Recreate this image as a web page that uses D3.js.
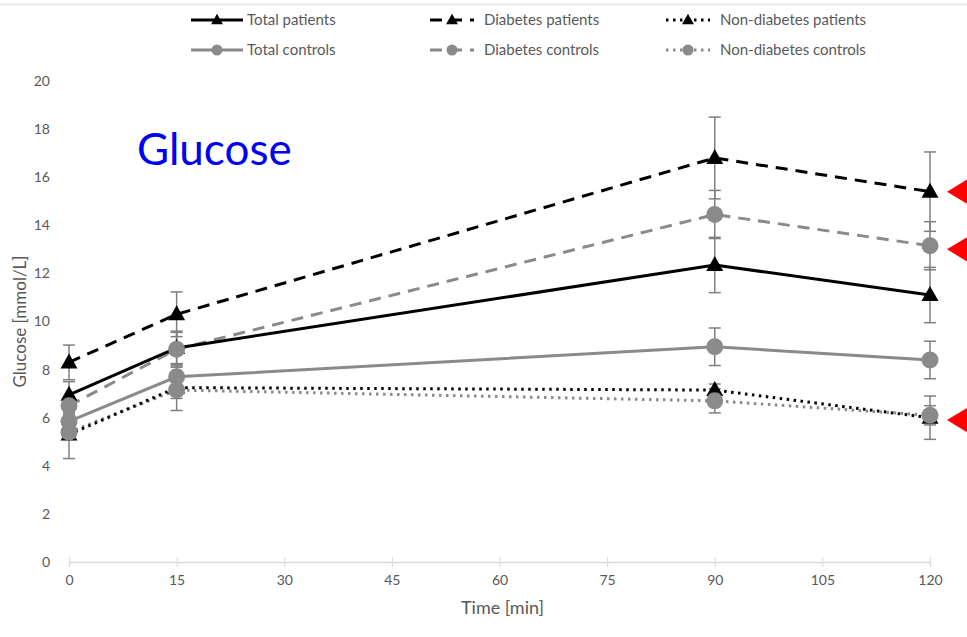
<!DOCTYPE html>
<html>
<head>
<meta charset="utf-8">
<script src="https://cdn.jsdelivr.net/npm/d3@7"></script>
<style>
  body { margin: 0; background: #fff; }
  text { font-family: Lato, "Open Sans", sans-serif; }
</style>
</head>
<body>
<div id="chart"></div>
<script>
// time points (min)
var times = [0, 15, 90, 120];

var totalPatients = [6.95, 8.9, 12.35, 11.1];
var totalPatientsErr = [0.55, 0.65, 1.15, 1.15];
var diabetesPatients = [8.3, 10.3, 16.8, 15.4];
var diabetesPatientsErr = [0.72, 0.93, 1.7, 1.65];
var nonDiabetesPatients = [5.3, 7.25, 7.15, 6.0];
var nonDiabetesPatientsErr = [1.0, 0.95, 0.25, 0.9];

var totalControls = [5.85, 7.7, 8.95, 8.4];
var totalControlsErr = [0.3, 0.45, 0.78, 0.78];
var diabetesControls = [6.5, 8.85, 14.45, 13.15];
var diabetesControlsErr = [0.3, 0.75, 1.0, 1.0];
var nonDiabetesControls = [5.4, 7.15, 6.7, 6.1];
var nonDiabetesControlsErr = [0.3, 0.35, 0.5, 0.4];

var xTicks = [0, 15, 30, 45, 60, 75, 90, 105, 120];
var yTicks = [0, 2, 4, 6, 8, 10, 12, 14, 16, 18, 20];

// red arrow markers on the right (glucose level)
var markerLevels = [15.4, 13.0, 5.9];

var W = 967, H = 637;
var black = "#000", grey = "#8a8a8a", labelGrey = "#595959";

var series = [
  {name: "Total patients", vals: totalPatients, err: totalPatientsErr, color: black, dash: null, shape: "tri"},
  {name: "Diabetes patients", vals: diabetesPatients, err: diabetesPatientsErr, color: black, dash: "12,8", shape: "tri"},
  {name: "Non-diabetes patients", vals: nonDiabetesPatients, err: nonDiabetesPatientsErr, color: black, dash: "2.5,4.5", shape: "tri"},
  {name: "Total controls", vals: totalControls, err: totalControlsErr, color: grey, dash: null, shape: "circ"},
  {name: "Diabetes controls", vals: diabetesControls, err: diabetesControlsErr, color: grey, dash: "12,8", shape: "circ"},
  {name: "Non-diabetes controls", vals: nonDiabetesControls, err: nonDiabetesControlsErr, color: grey, dash: "2.5,4.5", shape: "circ"}
];

var svg = d3.select("#chart").append("svg")
  .attr("width", W)
  .attr("height", H);

// faint frame line at top
svg.append("line")
  .attr("x1", 0).attr("x2", W).attr("y1", 4.5).attr("y2", 4.5)
  .attr("stroke", "#e2e2e2").attr("stroke-width", 1.5);

var x = d3.scaleLinear().domain([0, 120]).range([69, 930]);
var y = d3.scaleLinear().domain([0, 20]).range([562, 81]);

// x axis
var xAxis = svg.append("g")
  .attr("transform", "translate(0," + y(0) + ")")
  .call(d3.axisBottom(x).tickValues(xTicks).tickSize(5).tickPadding(8));
xAxis.select(".domain").attr("stroke", "#d9d9d9").attr("stroke-width", 1.5);
xAxis.selectAll(".tick line").attr("stroke", "#d9d9d9").attr("y1", -5);
xAxis.selectAll(".tick text").attr("fill", labelGrey).style("font-size", "14px")
  .style("font-family", "Lato, sans-serif");

// y axis labels only
var yAxis = svg.append("g")
  .attr("transform", "translate(50,0)")
  .call(d3.axisLeft(y).tickValues(yTicks).tickSize(0).tickPadding(0));
yAxis.select(".domain").remove();
yAxis.selectAll(".tick text").attr("fill", labelGrey).style("font-size", "14px")
  .style("font-family", "Lato, sans-serif");

// axis titles
svg.append("text")
  .attr("x", (x(0) + x(120)) / 2 + 3).attr("y", 614)
  .attr("text-anchor", "middle")
  .attr("fill", labelGrey).style("font-size", "18px")
  .text("Time [min]");

svg.append("text")
  .attr("transform", "translate(26," + y(10) + ") rotate(-90)")
  .attr("text-anchor", "middle")
  .attr("fill", labelGrey).style("font-size", "17px")
  .text("Glucose [mmol/L]");

// big title
svg.append("text")
  .attr("x", 137).attr("y", 165)
  .attr("fill", "#0000f0")
  .style("font-size", "44px")
  .text("Glucose");

// error bars
var errG = svg.append("g");
series.forEach(function(s) {
  times.forEach(function(t, i) {
    var cx = x(t), lo = y(s.vals[i] - s.err[i]), hi = y(s.vals[i] + s.err[i]);
    errG.append("line").attr("x1", cx).attr("x2", cx).attr("y1", lo).attr("y2", hi)
      .attr("stroke", "#7f7f7f").attr("stroke-width", 1.5);
    [lo, hi].forEach(function(yy) {
      errG.append("line").attr("x1", cx - 6).attr("x2", cx + 6).attr("y1", yy).attr("y2", yy)
        .attr("stroke", "#7f7f7f").attr("stroke-width", 1.5);
    });
  });
});

var line = d3.line()
  .x(function(d) { return x(d[0]); })
  .y(function(d) { return y(d[1]); });

var triPath = "M0,-9L8.5,6L-8.5,6Z";

function drawMarker(g, s, cx, cy, big) {
  if (s.shape == "tri") {
    g.append("path").attr("d", triPath)
      .attr("transform", "translate(" + cx + "," + cy + ")" + (big ? "" : " scale(0.7)"))
      .attr("fill", s.color);
  } else {
    g.append("circle").attr("cx", cx).attr("cy", cy).attr("r", big ? 8.5 : 5.5)
      .attr("fill", s.color);
  }
}

// lines (controls first, patients on top)
var order = [3, 4, 5, 0, 1, 2];
order.forEach(function(k) {
  var s = series[k];
  svg.append("path")
    .datum(times.map(function(t, i) { return [t, s.vals[i]]; }))
    .attr("d", line)
    .attr("fill", "none")
    .attr("stroke", s.color)
    .attr("stroke-width", 3)
    .attr("stroke-dasharray", s.dash);
});

// markers: patients underneath, controls on top
[0, 1, 2, 3, 4, 5].forEach(function(k) {
  var s = series[k];
  var g = svg.append("g");
  times.forEach(function(t, i) {
    drawMarker(g, s, x(t), y(s.vals[i]), true);
  });
});

// legend
var legCols = [191, 430, 666];
var legRows = [20, 50];
series.forEach(function(s, i) {
  var col = i % 3, row = Math.floor(i / 3);
  var lx = legCols[col], ly = legRows[row];
  var len = col == 0 ? 52 : 44;
  var g = svg.append("g");
  g.append("line")
    .attr("x1", lx).attr("x2", lx + len).attr("y1", ly).attr("y2", ly)
    .attr("stroke", s.color).attr("stroke-width", 3)
    .attr("stroke-dasharray", s.dash);
  drawMarker(g, s, lx + len / 2, ly, false);
  g.append("text")
    .attr("x", lx + len + (col == 0 ? 4 : 10)).attr("y", ly + 5)
    .attr("fill", labelGrey).style("font-size", "15px")
    .text(s.name);
});

// red arrow markers
svg.selectAll(".arrow")
  .data(markerLevels)
  .enter().append("path")
  .attr("class", "arrow")
  .attr("d", function(d) {
    var c = y(d);
    return "M947," + c + "L980," + (c - 20) + "L980," + (c + 20) + "Z";
  })
  .attr("fill", "#ff0000");
</script>
</body>
</html>
